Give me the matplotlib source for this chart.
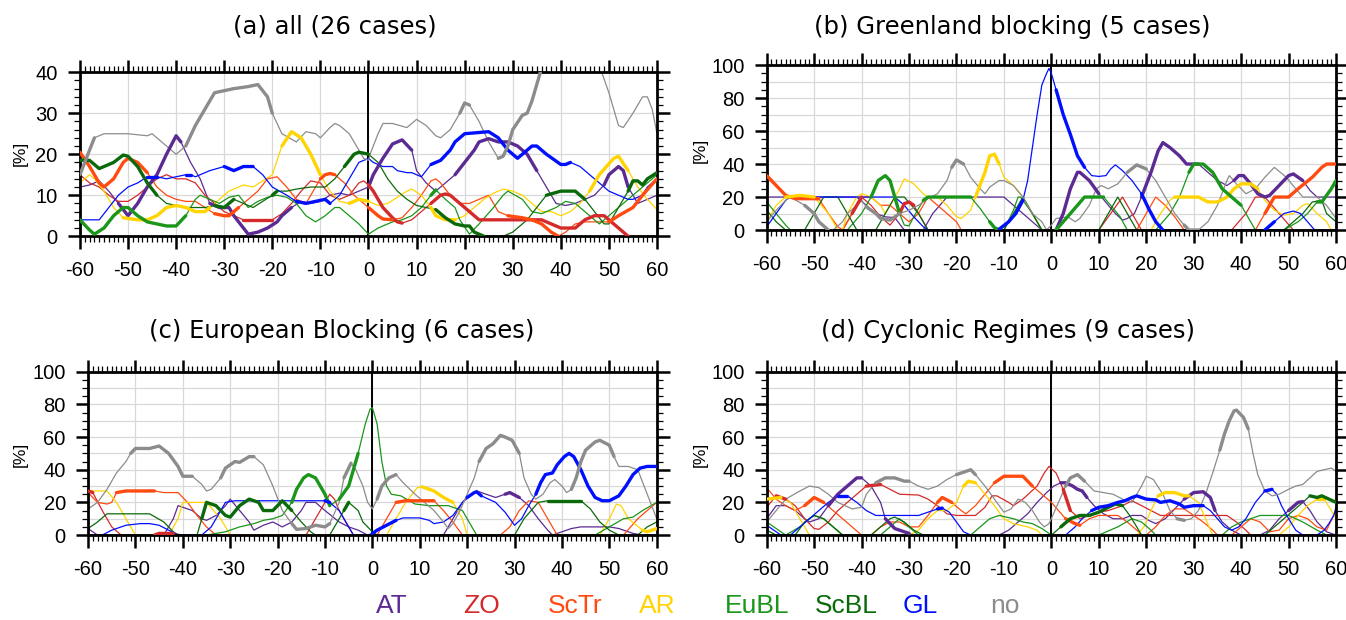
import numpy as np
import matplotlib
matplotlib.use('Agg')
import matplotlib.pyplot as plt
from matplotlib.ticker import MultipleLocator

plt.rcParams['font.family'] = ['Liberation Sans', 'DejaVu Sans']
plt.rcParams['axes.unicode_minus'] = False

regimes = ['AT', 'ZO', 'ScTr', 'AR', 'EuBL', 'ScBL', 'GL', 'no']
colors = ['#5b2a92', '#d42a2a', '#ff4a10', '#ffd400', '#1a961a', '#0a6a0a', '#0010ff', '#8c8c8c']
titles = ['(a) all (26 cases)', '(b) Greenland blocking (5 cases)',
          '(c) European Blocking (6 cases)', '(d) Cyclonic Regimes (9 cases)']

# ---- (a) all ----
a_AT = [(-60,12),(-58,12.5),(-56,13.5),(-54,11),(-52,8),(-50,5),(-48,8),(-46,12),(-44,15),(-42,20),(-40,24.5),(-39,23),(-37,18),(-35,14),(-33,8),(-31,7),(-29,7),(-28,5),(-26,2),(-25,0.5),(-23,1),(-21,2),(-19,3.5),(-18,5),(-16,7),(-14,8.5),(-12,8),(-10,8.5),(-8,10),(-6,10.5),(-4,10),(-2,11),(0,12),(1,15),(3,19),(5,22.5),(7,23.5),(9,21),(10,16),(12,13),(14,11),(16,13),(18,15),(20,18),(22,21),(23,23),(25,23.8),(27,23),(29,23),(31,22),(33,20),(35,16),(37,12),(39,8),(41,7.5),(43,8),(45,9),(47,10),(49,12.5),(50,15),(52,17),(53,16),(54,12),(56,8),(57,8.5),(58,9),(60,10)]
a_ZO = [(-60,15),(-58,13),(-56,12),(-54,10),(-52,8.5),(-50,8.5),(-48,10),(-46,12),(-44,14),(-42,15),(-40,14),(-38,14),(-36,13),(-34,10),(-32,8),(-30,6),(-28,5),(-26,4),(-24,4),(-22,4),(-20,4),(-18,5.5),(-16,8),(-14,11),(-12,13.5),(-10,13),(-8,10),(-6,9),(-4,10),(-2,13),(-1,13.5),(0,12.5),(1,11),(3,7),(5,4.5),(6,3.5),(7,3.2),(9,4),(11,6),(13,8),(15,10),(16,10.3),(17,10),(19,8),(21,6),(23,4),(36,4),(38,3),(40,2),(43,2),(45,4),(47,5),(49,5),(51,3),(53,1),(54,0),(60,0)]
a_ScTr = [(-60,20.5),(-58,17),(-56,13),(-55,12),(-53,14),(-51,18),(-50,19),(-48,18),(-46,15.5),(-44,12),(-42,10),(-40,9),(-38,8.5),(-36,8.5),(-34,7),(-32,5.5),(-30,5),(-29,5),(-27,7),(-25,9),(-23,11),(-21,14),(-19,14.5),(-17,12),(-15,9),(-13,8),(-12,10),(-10,14),(-9,15),(-8,15.3),(-7,15),(-5,13),(-3,10),(-1,8),(0,7),(2,5),(3,4.2),(5,4),(7,4.5),(9,7),(11,10),(13,13.5),(14,14),(15,13),(17,10),(19,8),(21,8),(23,9),(25,10),(27,6),(29,5),(32,4.5),(34,4),(36,3),(38,1),(39.5,0),(41,1),(43,3),(45,3.5),(50,3.5),(52,5),(55,7),(57,10),(60,14)]
a_AR = [(-60,13),(-58,15),(-57,14),(-55,11),(-53,7),(-51,4.5),(-48,4),(-46,4),(-44,5),(-42,7),(-40,7.5),(-38,7),(-36,6),(-34,6),(-33,7),(-31,9),(-29,11),(-26,12.5),(-24,12),(-22,13.5),(-20,15),(-18,22),(-16,25.5),(-14,24),(-12,20),(-10,15),(-8,11),(-6,8.5),(-4,8),(-2,9),(0,8.5),(2,7.5),(4,8),(6,9.5),(8,11),(9,11.5),(11,10),(13,7),(14,5),(16,4),(18,4),(20,5),(22,7),(24,9),(26,10.5),(28,11.5),(30,11),(32,10),(34,8),(36,6),(38,6),(40,5),(42,6),(44,8),(46,11),(48,15),(51,19),(52,19.5),(54,16),(56,12),(58,9),(60,6.5)]
a_EuBL = [(-60,4),(-58,1.5),(-57,0.5),(-55,2),(-53,5),(-51,7),(-50,7),(-48,5),(-46,3.5),(-44,3),(-42,2.5),(-40,2.5),(-38,5),(-36,9),(-35,10),(-33,9),(-31,8),(-29,9.5),(-27,10),(-25,7),(-23,8.5),(-21,9.5),(-19,10),(-17,9.5),(-15,8),(-13,5),(-11,3.5),(-9,5),(-7,7),(-6,7),(-4,5),(-2,3),(0,0.5),(2,2),(5,3.5),(7,4),(9,5),(11,7),(13,10),(14,11.3),(16,9),(18,7),(19,4),(21,0.5),(23,3),(26,7),(28,10),(29,11),(32,9),(34,6),(36,5.5),(39,7),(41,8.5),(43,8),(45,6),(47,4),(48,3),(51,6),(54,9),(57,12),(60,15)]
a_ScBL = [(-60,18.5),(-58,18.5),(-56,16.5),(-53,18),(-51,19.8),(-50,19.5),(-48,17),(-46,13),(-44,10),(-42,8),(-40,7.5),(-38,7),(-36,7),(-34,7),(-32,7.5),(-30,7),(-28,9),(-26,8),(-24,7),(-22,8.5),(-20,10),(-19,11),(-17,11),(-15,11.5),(-12,12),(-9,12),(-7,14),(-5,17),(-3,20),(-2,20.5),(0,20),(2,18),(4,14),(6,11),(8,9),(10,7.5),(12,7),(14,6.5),(16,4.5),(18,3),(20,2.5),(21,2.5),(22,1),(24,0),(28,0),(30,1),(33,4),(35,7),(37,10),(40,11),(43,11),(45,9),(47,6),(49,3),(50,3),(52,7),(54,11),(55,13.5),(56,13.5),(57,12.5),(58,14),(60,15.5)]
a_GL = [(-60,4),(-56,4),(-54,7),(-52,10),(-50,12),(-48,13),(-46,14.5),(-44,14.5),(-42,14),(-40,14.5),(-38,15),(-37,15),(-36,14.5),(-33,16),(-30,17),(-28,16),(-26,17),(-24,17),(-22,15),(-20,12),(-17,10),(-15,8.5),(-13,8),(-11,8.5),(-9,9),(-8,8),(-6,10),(-4,14),(-2,18),(0,19),(1,18),(3,17),(5,17),(6,16),(8,15.5),(9,15.5),(11,14.5),(12,16),(13,17.5),(15,18.5),(17,21),(18,23),(20,25),(23,25.3),(25,25.5),(27,24),(29,21),(31,19),(32,20),(34,22),(35,22),(37,20),(40,17.5),(41,17.5),(42,18),(44,17),(46,15),(48,13),(50,11),(52,10),(54,9),(55,9),(57,10),(58,12),(60,14)]
a_no = [(-60,15),(-57,24),(-55,25),(-50,25),(-46,24.5),(-45,25),(-42,22),(-40,20),(-38,22),(-36,27),(-33,33),(-32,35),(-28,36),(-25,36.5),(-23,37),(-21,34),(-20,30),(-18,25),(-15,23),(-13,25.5),(-11,25),(-10,24),(-8,26.5),(-7,27.5),(-6,27),(-4,25),(-2,21),(-1,19),(0,18.5),(0.5,20.5),(2,25),(3,27.5),(5,27.5),(8,26.5),(10,28.5),(12,27),(14,24.5),(15,24),(17,26),(19,30),(20,32.5),(21,32),(23,28),(25,23),(27,19),(28,19.5),(29,22),(30,26),(32,29.5),(33,30),(34,33),(35,37),(36,41),(40,46),(45,46),(48.5,40),(50,35),(52,27),(53,26.5),(55,30),(57,34),(58,34),(59,31),(60,25)]
a_thick = [[(-52,-38),(-33,-16),(0,9),(18,36),(49,54)],
           [(-26,-19),(0,8),(13,54)],
           [(-60,-46),(-33,-27),(-11,-6),(0,5),(28,40),(50,60)],
           [(-52,-33),(-19,-9),(-4,1),(13,19),(46,54)],
           [(-60,-38),(12,15)],
           [(-60,-44),(-33,-28),(-20,-18),(-5,0),(14,24),(36,45),(54,60)],
           [(-47,-44),(-39,-37),(-31,-23),(-15,-8),(13,42)],
           [(-60,-56),(-38,-20),(19,21),(26,36)]]

# ---- (b) Greenland blocking ----
b_AT = [(-60,20),(-41,20),(-39,15),(-37,10),(-35,8),(-33,7.5),(-31,0),(-27,0),(-25,10),(-22,20),(-10,20),(-8,15),(-6,10),(-4,5),(-2,0),(1,0),(2.5,10),(4,25),(5.5,35),(6,35),(8,30),(10,22),(12,15),(13.5,10),(15,6),(16,7),(17.5,10),(19,20),(21,35),(22.5,48),(23.5,53),(25,50),(27,45),(28.5,40),(31,40),(33,35),(35,30),(37,27),(38.5,30),(39.5,33),(40.5,33),(42,28),(43.5,22),(45,20),(46,21),(48,27),(50,33),(51,34),(53,30),(54.5,24),(56,20),(60,20)]
b_ZO = [(-60,0),(-44,0),(-42,10),(-40,20),(-38,15),(-36,8),(-34,3),(-32,10),(-31,16),(-30,17),(-29,15),(-27,5),(-26,0),(10,0),(12.5,10),(15,20),(17,10),(19,0),(38,0),(41,10),(43,20),(45,20),(48,10),(51,0),(60,0)]
b_ScTr = [(-60,33),(-58,27),(-56,21),(-54,19),(-49,19),(-47,10),(-45,2),(-44,0),(-42,10),(-40,20),(-38,20),(-36,15),(-34,15),(-32,10),(-30,5),(-28,10),(-26,20),(-24,15),(-22,10),(-20,5),(-19,0),(18,0),(20,10),(22,20),(24,15),(26,8),(28,0),(43,0),(45,10),(47,20),(50,20),(52,25),(55,32),(57,38),(58,40),(60,40)]
b_AR = [(-60,5),(-58,15),(-56,20),(-53,21),(-50,20),(-47,10),(-45,0),(-44,0),(-43,10),(-41,20),(-40,22),(-38,20),(-36,15),(-35,10),(-34,15),(-32,25),(-31,31),(-29,28),(-27,22),(-26,20),(-24,20),(-22,15),(-20,8),(-19,7),(-17,12),(-16,20),(-14,35),(-13,45),(-12,46),(-11,40),(-10,32),(-8,27),(-6,20),(-4,10),(-2,0),(21,0),(23,10),(25,18),(26,20),(31,20),(33,17),(35,17),(37,20),(38.5,25),(40,28),(42,28),(43.5,25),(45,18),(47,12),(49,9),(51,10),(53,15),(54,16),(56,10),(58,5),(59,0),(60,0)]
b_EuBL = [(-60,17),(-58,10),(-56,3),(-55,0),(-43,0),(-40,10),(-38,20),(-36.5,30),(-35,33),(-34,30),(-33,20),(-32,10),(-31,3),(-30,2.5),(-29,8),(-27,18),(-26,20),(-17,20),(-15,13),(-13,5),(-12,1.5),(-11,0),(-10,0),(-8,12),(-7,20),(-6.5,20),(-4,10),(-2,0),(1,0),(4,10),(7,20),(11,20),(12.5,15),(14.5,8),(16,0),(22,0),(25,10),(27,20),(29,35),(30,40),(32,40),(34,35),(36,25),(38,20),(40,15),(42,5),(43,0),(49,0),(52,5),(54,10),(56,17),(57,17),(59,25),(60,30)]
b_ScBL = [(-60,12),(-58,5),(-56,0),(-52,0),(-50,10),(-48,20),(-45,20),(-43,10),(-41,0),(-37,0),(-35,10),(-33,20),(-31,20),(-28,10),(-26,0),(-10,0),(-8,10),(-6,20),(-4,10),(-2,0),(10,0),(12,10),(14,20),(16,10),(18,0),(49,0),(51,5),(53,10),(55,17),(57,18),(58,10),(60,5)]
b_GL = [(-60,2),(-58,10),(-56,18),(-55,20),(-33,20),(-31,15),(-29,8),(-27,2),(-26,0),(-12,0),(-11,0.5),(-9,5),(-7.5,10),(-6,18),(-5,30),(-4,50),(-3,70),(-2,88),(-1,95),(-0.5,98),(0,95),(1,85),(2.5,70),(4,58),(5.5,45),(7,38),(8.5,33),(10,32.5),(11.5,33),(12.5,37),(13.5,39.5),(15,36),(17,30),(19,22),(20.5,13),(22,5),(23.5,0),(45,0),(47,5),(49,10),(51,11.5),(52.5,10),(54,5),(55.5,0),(60,0)]
b_no = [(-60,5),(-58,12),(-56,18),(-55,20),(-52,15),(-50,10),(-49,5),(-47,0),(-46,0),(-44,5),(-43,10),(-41,15),(-40,18),(-39,14),(-37,10),(-36,7),(-34,6),(-33,8),(-32,10),(-30,12),(-28,15),(-26,19),(-24,22),(-22,30),(-21,38),(-20,42.5),(-18.5,40),(-17,32),(-15,25),(-14,22),(-13,26),(-11,30),(-10,30),(-8,27),(-6,20),(-4,10),(-2,5),(-1,0),(0,3),(1,7),(3.5,8),(5,5),(6,7),(8,15),(9.5,25),(10.5,27),(12,25),(14,28),(16,35),(18,39.5),(20,37),(22,30),(24,20),(26,10),(28,3),(29,0),(31,0),(33,5),(35,15),(37,30),(37.5,33),(39,28),(41,22),(43,25),(45,32),(47,38),(49.5,32),(51.5,25),(53,20),(56,20),(58,15),(60,7)]
b_thick = [[(-12,-10),(1,10),(18,32),(38,53)],
           [(-42,-39),(-32,-28)],
           [(-60,-49),(44,60)],
           [(-56,-49),(-16,-11),(26,44)],
           [(-38,-32),(-27,-17),(-13,-11),(1,12),(28,40),(55,60)],
           [],
           [(-11,-6),(1,7),(19,23.5),(44,48)],
           [(-53,-47),(-39,-32),(-21,-18.5),(16,20),(28,32)]]

# ---- (c) European blocking ----
c_AT = [(-60,4),(-58,0),(-44,0),(-42,10),(-41,18),(-38,15),(-36,10),(-35,9),(-33,12),(-31,18),(-30,22),(-28,15),(-26,8),(-25,3),(-23,6),(-21,8),(-19,5),(-17,8),(-15,15),(-14,20),(-12,20),(-10,15),(-7,8),(-5,5),(-3,3),(-1,0),(15,0),(17,10),(19,20),(21,25),(22,27),(24,25),(26,23),(28,25),(29,26),(31,23),(33,18),(35,10),(37,3),(38,0),(40,2),(42,4),(44,5),(50,5),(52,4),(54,2),(55,1),(57,0),(60,0)]
c_ZO = [(-60,27),(-59,26),(-57,15),(-55,5),(-53,0),(-46,0),(-45,1),(-42,1),(-40,0),(-14,0),(-12,10),(-10,20),(-9,25),(-8,22),(-7,15),(-5,5),(-4,0),(60,0)]
c_ScTr = [(-60,26),(-58,20),(-56,19),(-55,20),(-54,26),(-52,27),(-46,27),(-44,26),(-41,26),(-39,20),(-37,12),(-35,5),(-33,0),(1,0),(3,10),(5,20),(7,21),(13,21),(15,15),(17,8),(19,0),(27,0),(29,5),(31,15),(33,21),(35,20),(37,10),(39,0),(53,0),(56,10),(60,20)]
c_AR = [(-60,27),(-56,27),(-54,20),(-52,10),(-50,0),(-43,0),(-41,10),(-40,20),(-35,20),(-32,10),(-30,0),(3,0),(5,10),(7,20),(9.5,29),(10.5,29.5),(13,27),(15,23),(17,20),(19,10),(20,0),(48,0),(50,10),(51.5,19),(52.5,18),(54,10),(57,3),(58,2),(60,4)]
c_EuBL = [(-60,0),(-35,0),(-31,2),(-28,5),(-25,7),(-23,9),(-21,10),(-19,12),(-17,20),(-16,28),(-14.5,35),(-13.5,37),(-12,35),(-11,30),(-10,25),(-9,18),(-7,22),(-5,30),(-3,50),(-1.5,68),(-0.5,77),(0,78),(1,68),(2,45),(3,30),(4,25),(6,24),(9,19),(12,18),(16,18),(18,16),(19,15),(21,5),(22,0),(47,0),(50,5),(53,10),(55,11),(57,15),(60,20)]
c_ScBL = [(-60,4),(-58,8),(-56,13),(-47,13),(-44,8),(-42,2),(-41,0),(-37,0),(-36,10),(-35,20),(-33,18),(-31,12),(-30,11),(-28,18),(-26,22),(-24,20),(-23,15),(-21,15),(-20,18),(-19,21),(-17,15),(-15,8),(-13,2),(-12,0),(-9,0),(-8,5),(-6,15),(-5,20),(-3,15),(-2,8),(0,2),(1,0),(30,0),(32,10),(35,20),(37,21),(44,21),(46,16),(48,8),(50,3),(52,0),(56,0),(58,5),(60,8)]
c_GL = [(-60,0),(-57,0),(-55,3),(-52,6),(-49,7),(-47,7),(-45,6),(-43,3),(-41,0),(-36,0),(-34,5),(-33,10),(-31,20),(-29,21),(-10,21),(-9,20),(-7,15),(-6,10),(-5,5),(-4,0),(-1,0),(0,1),(1,3),(3,6),(5,9),(6.5,10.5),(10,10.5),(12,9),(13,7),(15,8),(17,12),(19,20),(20,23),(21.5,26),(22,26.5),(23,24),(24.5,22),(26,20),(28,14),(29.5,8),(30,6),(31.5,10),(33,18),(34.5,25),(35.5,32),(36.5,37),(38,38),(39,43),(40.5,48),(41.5,50),(42.5,48),(44,40),(45.5,30),(47,23),(48.5,21),(50,21),(52,24),(53.5,30),(55,37),(56.5,41),(58,42),(60,42)]
c_no = [(-60,16),(-58,20),(-56,28),(-54,38),(-52,45),(-51,50),(-50,53),(-47,53),(-45,54.5),(-43,50),(-41,42),(-40,36),(-38,36),(-36,31),(-35,27),(-34,28),(-32,35),(-31,41),(-29,45),(-28,44.5),(-26,48),(-25,48),(-23,43),(-21,30),(-19,15),(-17,7),(-16,3.5),(-14,4),(-12,6),(-10,5),(-9,7),(-7,20),(-6,35),(-4.5,44),(-3.5,40),(-2,30),(-1,20),(0,16),(1,22),(2,30),(3.5,35),(5,37),(6.5,32),(9,25),(11,20),(13,15),(15,8),(16,4),(17,7),(18.5,15),(20,25),(21.5,35),(22.5,45),(24,53),(25.5,56),(27,61),(28,60),(29.5,58),(31,50),(32,35),(33.5,25),(34.5,22),(36,25),(37.5,32),(38.5,34),(40,30),(41,26),(42,28),(43,35),(44,45),(45,52),(47,57),(48,58),(50,55),(51,48),(52,42),(54,42),(56,40),(58,25),(60,10)]
c_thick = [[(27,31)],
           [(-60,-59),(-46,-41)],
           [(-54,-46),(4,14)],
           [(-60,-57),(10,18),(57,60)],
           [(-17,-9),(-7,-2.5)],
           [(-53,-47),(-36,-17),(-6,-4),(36,45)],
           [(-10,-8),(0,6),(20,23),(34,60)],
           [(-51,-38),(-33,-25),(-17,-9),(-6,-4),(1,6),(22,31),(42,51)]]

# ---- (d) cyclonic regimes ----
d_AT = [(-60,10),(-58,18),(-56,18),(-54,15),(-52,10),(-51,8),(-49,10),(-47,18),(-45,25),(-43,30),(-41,35),(-40,35),(-38,30),(-36,20),(-35,10),(-33,4),(-31,2),(-30,1),(-29,0),(-11,0),(-9,3),(-7,8),(-5,13),(-3,20),(-1,26),(0.5,30),(2,32),(3,32),(4.5,30),(5.5,28),(6.5,27),(7.5,23),(9,18),(11,13),(13,10),(15,10),(17,12),(19,12),(20.5,9),(22,7),(24,10),(26,16),(28,22),(30,26),(32,26.5),(33.5,23),(34.5,15),(36,8),(38,3),(40,0),(44,0),(46,3),(48,10),(50,15),(52,20),(53,20.5),(54.5,15),(56,8),(58,2),(60,0)]
d_ZO = [(-60,17),(-58,24),(-56,22),(-54,18),(-52,10),(-50,4),(-49,3.5),(-47,8),(-45,15),(-43,20),(-41,25),(-39,30),(-36,31),(-34,28),(-32,25),(-28,24.5),(-26,22),(-24,18),(-22,13),(-20,12),(-16,12),(-14,17),(-12.5,24),(-11.5,24),(-9,20),(-8,18),(-6,22),(-3,30),(-1.5,38),(-0.5,42),(1,38),(2.5,28),(4,15),(6,10),(8,12),(10,14),(12,15),(15,18),(17,21),(19,18),(21,15),(23,12),(37,12),(39,8),(41,3),(42,0),(60,0)]
d_ScTr = [(-60,29),(-58,22),(-56,18),(-54,15),(-52,18),(-50,23),(-48,20),(-46,15),(-44,10),(-42,5),(-40,0),(-38,0),(-36,5),(-34,8),(-32,8),(-30,5),(-28,5),(-26,12),(-24,20),(-23,23),(-21,20),(-19,15),(-18,13),(-16,18),(-14,25),(-12,32),(-10,36),(-6,36),(-4,30),(-2,25),(0,20),(1.5,15),(3,10),(5,7),(6,6),(8,10),(10,12),(14,12),(16,8),(18,3),(19,0),(20,0),(22,5),(24,12),(26,16),(28,16),(30,12),(32,8),(34,3),(35,0),(38,0),(40,5),(42,10),(44,8),(46,2),(48,3),(50,10),(52,12),(54,10),(56,5),(58,3),(60,15)]
d_AR = [(-60,22),(-57,23),(-55,20),(-53,10),(-51,0),(-30,0),(-28,3),(-26,10),(-24,15),(-22,15),(-20,20),(-18.5,30),(-17.5,33),(-16,32),(-14,25),(-12,18),(-10,10),(-8,7),(-5,5),(-3,3),(-2,0),(18,0),(19.5,5),(21,15),(22.5,24),(24,26),(26,26),(28,24),(29,24),(31,20),(32.5,10),(34,0),(48,0),(50,5),(52,12),(54,18),(56,22),(57.5,22),(59,15),(60,10)]
d_EuBL = [(-60,8),(-58,4),(-56,0),(-53,5),(-51,10),(-50,12),(-48,10),(-46,5),(-44,0),(-36,0),(-34,5),(-32,10),(-30,5),(-28,0),(-17,0),(-15,5),(-13,10),(-11,12),(-8,10),(-6,8),(-4,7),(-2,4),(0,0),(10,0),(14,5),(17,10),(19,8),(21,3),(22,0),(36,0),(38,5),(40,8),(42,10),(44,12),(50,12),(53,8),(56,3),(58,0),(60,0)]
d_ScBL = [(-60,3),(-58,0),(-54,0),(-52,8),(-50,12),(-48,10),(-46,5),(-44,0),(-38,0),(-36,5),(-34,10),(-33,11),(-31,8),(-29,3),(-27,0),(0,0),(2,5),(4,10),(6,12),(8,12),(10,14),(12,17),(13.5,19),(15,18),(16.5,12),(18,5),(19,0),(45,0),(47,5),(49,10),(51,15),(53,20),(54.5,24),(56,23),(57,24),(58.5,22),(60,20)]
d_GL = [(-60,6),(-57,0),(-55,0),(-53,5),(-51,10),(-49,15),(-47,20),(-45,24),(-43,24),(-41,20),(-39,15),(-37,12),(-28,12),(-26,14),(-24,16),(-23,16.5),(-21.5,14),(-20,8),(-18.5,2),(-17,0),(3,0),(5,5),(6.5,10),(8.5,15),(10,17),(12,18),(14,20),(15.5,21),(17,23),(18,24),(20,22),(22,21.5),(23,20),(25,21),(27,19),(28,17),(30,18),(32,18),(33.5,15),(35,10),(36.5,5),(38,3),(39.5,5),(41,10),(43,20),(45,27),(46.5,28),(47.5,25),(48.5,18),(50,10),(51.5,3),(53,0),(56,0),(57.5,3),(58.5,7),(59.5,12),(60,17)]
d_no = [(-60,8),(-58,15),(-56,22),(-53,27),(-51,30),(-49,29),(-47,25),(-45,20),(-42,16),(-40,17),(-39,25),(-37,32),(-35,35),(-33,35),(-31,33),(-30,33),(-28,30),(-26,28),(-24,30),(-22,34),(-20,37),(-18,39),(-17,40),(-16,37),(-14,30),(-12,22),(-10,14),(-8.5,16),(-7,22),(-5.5,20),(-4,15),(-2.5,8),(-1.5,5),(-0.5,7),(0,10),(1.5,20),(3,30),(4,35),(5.5,37),(7,33),(9,27),(11,26),(13,25),(15,22),(17,20),(19,30),(20,36),(21.5,34),(23.5,25),(25,15),(26.5,10),(28,9),(29.5,10),(31,15),(32.5,25),(34,38),(35.5,52),(36.5,62),(37.5,70),(38.5,76),(39,76.5),(40.5,72),(41.5,65),(42.5,50),(43.5,37),(45,27),(46.5,24),(48,25),(50,28),(51.5,30),(53,31),(54.5,35),(56,39),(57.5,40),(59,41),(60,39)]
d_thick = [[(-47,-39),(-35,-30),(2,8),(28,35),(49,53)],
           [(-58,-56),(-40,-35),(2,5)],
           [(-52,-48),(-25,-21),(-12,-4),(2,6)],
           [(-60,-56),(-19,-16),(22,30),(55,58)],
           [],
           [(2,15),(54,60)],
           [(-46,-42),(-25,-22),(8,32),(45,47)],
           [(-38,-30),(-20,-16),(3,7),(26,29),(35,42)]]

panels = [
    ([a_AT, a_ZO, a_ScTr, a_AR, a_EuBL, a_ScBL, a_GL, a_no], a_thick, 40, 10, 2, [0.0594, 0.619, 0.4287, 0.2645]),
    ([b_AT, b_ZO, b_ScTr, b_AR, b_EuBL, b_ScBL, b_GL, b_no], b_thick, 100, 20, 5, [0.5696, 0.629, 0.423, 0.266]),
    ([c_AT, c_ZO, c_ScTr, c_AR, c_EuBL, c_ScBL, c_GL, c_no], c_thick, 100, 20, 5, [0.0654, 0.137, 0.4225, 0.2635]),
    ([d_AT, d_ZO, d_ScTr, d_AR, d_EuBL, d_ScBL, d_GL, d_no], d_thick, 100, 20, 5, [0.5696, 0.137, 0.423, 0.2635]),
]
title_pos = [(0.2489, 0.9565), (0.7519, 0.9565), (0.254, 0.466), (0.7489, 0.466)]
ylab_pos = [(0.015, 0.753), (0.520, 0.758), (0.015, 0.267), (0.520, 0.267)]

fig = plt.figure(figsize=(13.46, 6.2), dpi=100)

for k, (series, thick, ymax, ymaj, ymin, rect) in enumerate(panels):
    ax = fig.add_axes(rect)
    for g in range(-50, 60, 10):
        ax.axvline(g, color='#d8d8d8', lw=0.9, zorder=0)
    for g in range(10, ymax, 10):
        ax.axhline(g, color='#d8d8d8', lw=0.9, zorder=0)
    ax.axvline(0, color='k', lw=1.4, zorder=1)
    for s, th, c in zip(series, thick, colors):
        x = np.array([p[0] for p in s])
        y = np.array([p[1] for p in s])
        ax.plot(x, y, color=c, lw=0.9, zorder=2)
        for (t0, t1) in th:
            m = (x >= t0) & (x <= t1)
            ax.plot(x[m], y[m], color=c, lw=2.4, zorder=3,
                    solid_capstyle='round', solid_joinstyle='round')
    ax.set_xlim(-60, 60)
    ax.set_ylim(0, ymax)
    ax.set_xticks(range(-60, 61, 10))
    ax.xaxis.set_minor_locator(MultipleLocator(1))
    ax.set_yticks(range(0, ymax + 1, ymaj))
    ax.yaxis.set_minor_locator(MultipleLocator(ymin))
    ax.tick_params(which='both', direction='out', top=True, right=True,
                   labeltop=False, labelright=False, labelsize=14.5)
    ax.tick_params(which='major', length=9, width=1.8)
    ax.tick_params(which='minor', length=4.5, width=0.9)
    ax.tick_params(axis='x', which='major', pad=9)
    ax.tick_params(axis='y', which='major', pad=7)
    for sp in ax.spines.values():
        sp.set_linewidth(2.0)
    fig.text(title_pos[k][0], title_pos[k][1], titles[k], ha='center', va='center',
             fontsize=17.5, family='DejaVu Sans')
    fig.text(ylab_pos[k][0], ylab_pos[k][1], '[%]', rotation=90, ha='center', va='center',
             fontsize=12.5)

leg_x = [392, 481, 575, 657, 757, 846, 920, 1005]
for name, c, px in zip(regimes, colors, leg_x):
    fig.text(px / 1346, 1 - 606 / 620, name, color=c, ha='center', va='center', fontsize=19)

fig.savefig('out.png', dpi=100)
